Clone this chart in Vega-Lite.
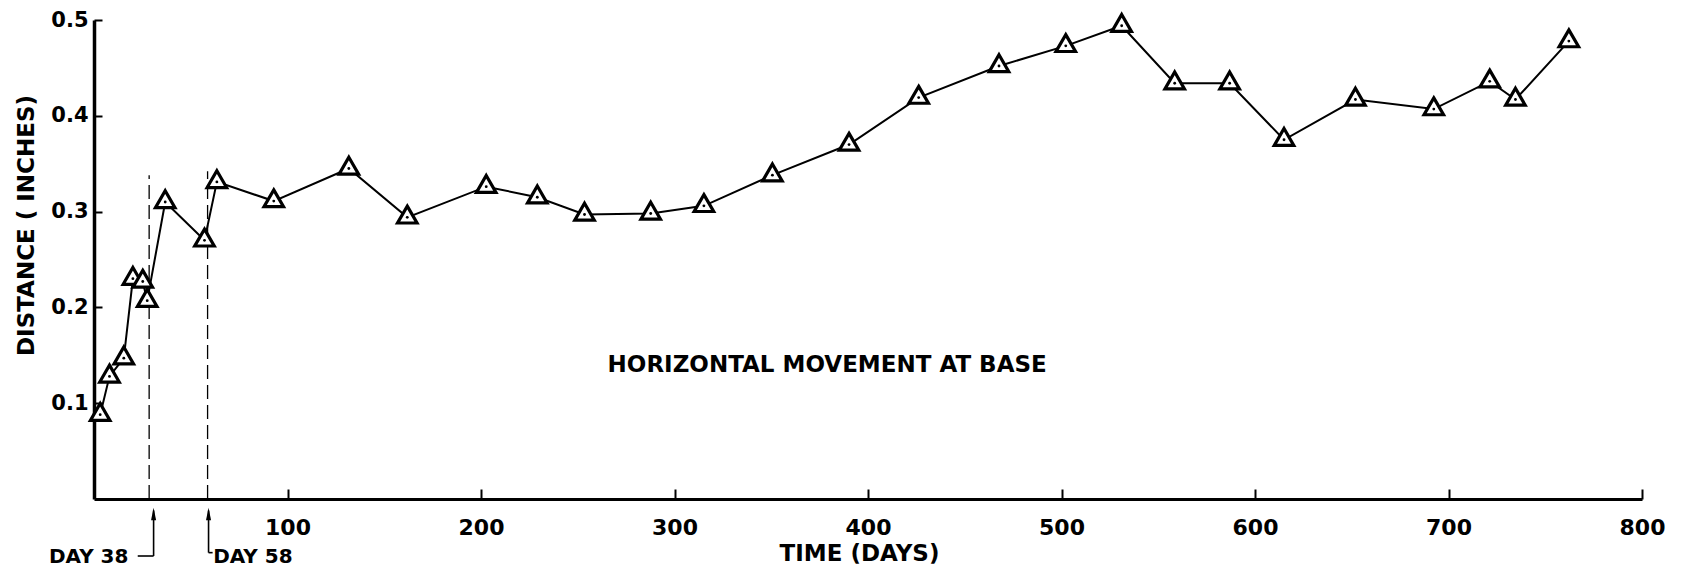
{
  "$schema": "https://vega.github.io/schema/vega-lite/v6.json",
  "width": 1548,
  "height": 479,
  "autosize": {"type": "none"},
  "padding": {"left": 94, "top": 20, "right": 41, "bottom": 72},
  "background": "white",
  "config": {"view": {"stroke": null}, "font": "DejaVu Sans"},
  "datasets": {
    "movement": [
      {"day": 3.2, "val": 0.088}, {"day": 8.0, "val": 0.128}, {"day": 15.4, "val": 0.147},
      {"day": 20.1, "val": 0.230}, {"day": 25.2, "val": 0.227}, {"day": 27.5, "val": 0.207},
      {"day": 36.8, "val": 0.310}, {"day": 57.1, "val": 0.270}, {"day": 63.5, "val": 0.331},
      {"day": 92.9, "val": 0.311}, {"day": 131.7, "val": 0.345}, {"day": 161.9, "val": 0.294},
      {"day": 202.7, "val": 0.326}, {"day": 229.1, "val": 0.315}, {"day": 253.5, "val": 0.297},
      {"day": 287.7, "val": 0.298}, {"day": 315.2, "val": 0.306}, {"day": 350.6, "val": 0.338},
      {"day": 390.2, "val": 0.370}, {"day": 426.2, "val": 0.419}, {"day": 467.7, "val": 0.452},
      {"day": 502.2, "val": 0.473}, {"day": 531.1, "val": 0.494}, {"day": 558.5, "val": 0.434},
      {"day": 586.9, "val": 0.434}, {"day": 615.0, "val": 0.375}, {"day": 651.9, "val": 0.417},
      {"day": 692.4, "val": 0.407}, {"day": 721.3, "val": 0.436}, {"day": 734.6, "val": 0.417},
      {"day": 762.2, "val": 0.478}
    ],
    "guides": [
      {"day": 28.5, "val": 0, "val2": 0.338},
      {"day": 58.7, "val": 0, "val2": 0.342}
    ],
    "segments": [
      {"day": 30.8, "val": -0.012, "day2": 30.8, "val2": -0.0595},
      {"day": 22.6, "val": -0.0595, "day2": 30.8, "val2": -0.0595},
      {"day": 59.2, "val": -0.012, "day2": 59.2, "val2": -0.056},
      {"day": 59.2, "val": -0.056, "day2": 61.3, "val2": -0.056}
    ],
    "heads": [
      {"day": 30.8, "val": -0.0157},
      {"day": 59.2, "val": -0.0157}
    ],
    "leftLabels": [{"day": 17.8, "val": -0.0606, "label": "DAY 38"}],
    "rightLabels": [{"day": 61.6, "val": -0.0606, "label": "DAY 58"}],
    "centerLabels": [{"day": 378.9, "val": 0.14, "label": "HORIZONTAL MOVEMENT AT BASE"}]
  },
  "encoding": {
    "x": {
      "field": "day", "type": "quantitative",
      "scale": {"domain": [0, 800], "nice": false, "zero": false},
      "axis": {
        "title": "TIME (DAYS)", "values": [100, 200, 300, 400, 500, 600, 700, 800], "format": "d",
        "grid": false, "domainColor": "black", "domainWidth": 3,
        "tickColor": "black", "tickWidth": 2, "tickSize": -10, "labelPadding": 28,
        "labelFont": "DejaVu Sans", "labelFontWeight": "bold", "labelFontSize": 22, "labelColor": "black",
        "labelFlush": false, "labelOverlap": false,
        "titleFont": "DejaVu Sans", "titleFontWeight": "bold", "titleFontSize": 23, "titleColor": "black",
        "titleX": 765, "titleY": 54, "titleBaseline": "middle", "titleAlign": "center"
      }
    },
    "y": {
      "field": "val", "type": "quantitative",
      "scale": {"domain": [0, 0.5], "nice": false},
      "axis": {
        "title": "DISTANCE ( INCHES)", "values": [0.1, 0.2, 0.3, 0.4, 0.5], "format": ".1f",
        "grid": false, "domainColor": "black", "domainWidth": 3.5,
        "tickColor": "black", "tickWidth": 2, "tickSize": -8, "labelPadding": 14,
        "labelFont": "DejaVu Sans", "labelFontWeight": "bold", "labelFontSize": 21, "labelColor": "black",
        "labelFlush": false, "labelOverlap": false,
        "titleFont": "DejaVu Sans", "titleFontWeight": "bold", "titleFontSize": 23, "titleColor": "black",
        "titleX": -68, "titleY": 205, "titleAngle": 270, "titleBaseline": "middle", "titleAlign": "center"
      }
    }
  },
  "layer": [
    {
      "data": {"name": "guides"},
      "mark": {"type": "rule", "color": "black", "strokeWidth": 1.3, "strokeDash": [14, 6]},
      "encoding": {"y2": {"field": "val2"}}
    },
    {
      "data": {"name": "segments"},
      "mark": {"type": "rule", "color": "black", "strokeWidth": 1.6},
      "encoding": {"x2": {"field": "day2"}, "y2": {"field": "val2"}}
    },
    {
      "data": {"name": "heads"},
      "mark": {"type": "point", "shape": "M0,-1L0.4,1L-0.4,1Z", "size": 160, "filled": true, "color": "black", "opacity": 1}
    },
    {
      "data": {"name": "movement"},
      "mark": {"type": "line", "color": "black", "strokeWidth": 2}
    },
    {
      "data": {"name": "movement"},
      "mark": {"type": "point", "shape": "M0,-1.15L1,0.58L-1,0.58Z", "size": 380, "filled": false, "fill": "white", "fillOpacity": 1, "stroke": "black", "strokeWidth": 3.2, "opacity": 1}
    },
    {
      "data": {"name": "movement"},
      "mark": {"type": "circle", "size": 8, "color": "black", "opacity": 1}
    },
    {
      "data": {"name": "leftLabels"},
      "mark": {"type": "text", "align": "right", "baseline": "middle", "font": "DejaVu Sans", "fontWeight": "bold", "fontSize": 20, "color": "black"},
      "encoding": {"text": {"field": "label"}}
    },
    {
      "data": {"name": "rightLabels"},
      "mark": {"type": "text", "align": "left", "baseline": "middle", "font": "DejaVu Sans", "fontWeight": "bold", "fontSize": 20, "color": "black"},
      "encoding": {"text": {"field": "label"}}
    },
    {
      "data": {"name": "centerLabels"},
      "mark": {"type": "text", "align": "center", "baseline": "middle", "font": "DejaVu Sans", "fontWeight": "bold", "fontSize": 23, "color": "black"},
      "encoding": {"text": {"field": "label"}}
    }
  ]
}
